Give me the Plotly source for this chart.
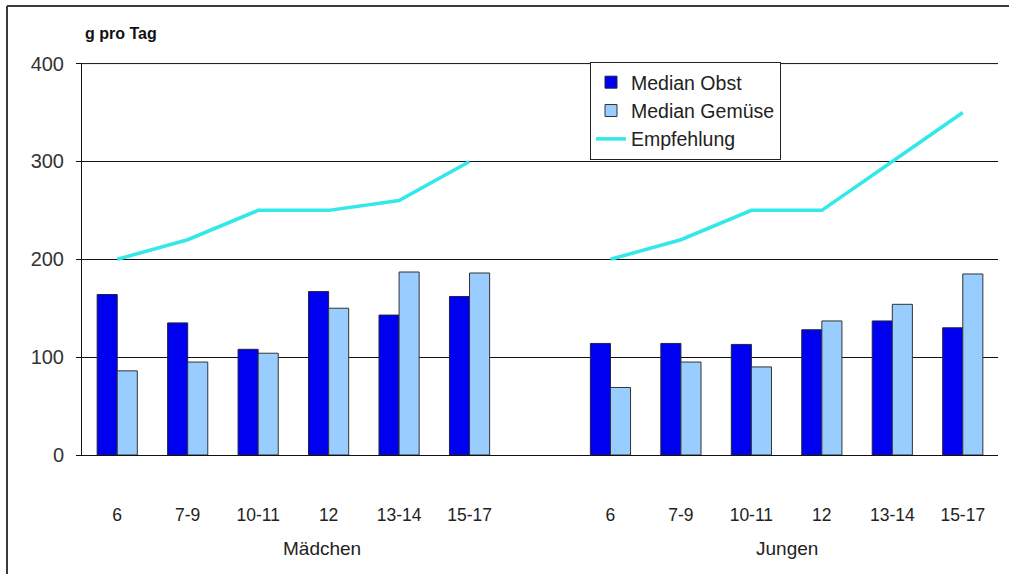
import plotly.graph_objects as go

# Age groups for girls (Mädchen) and boys (Jungen); an empty slot separates the groups
age_groups = ["6", "7-9", "10-11", "12", "13-14", "15-17"]
tick_labels = age_groups + [""] + age_groups

# Median intake in g per day
obst_maedchen = [164, 135, 108, 167, 143, 162]
obst_jungen = [114, 114, 113, 128, 137, 130]
gemuese_maedchen = [86, 95, 104, 150, 187, 186]
gemuese_jungen = [69, 95, 90, 137, 154, 185]

# Recommended intake in g per day
empf_maedchen = [200, 220, 250, 250, 260, 300]
empf_jungen = [200, 220, 250, 250, 300, 350]

y_ticks = [0, 100, 200, 300, 400]

x_pos = list(range(len(tick_labels)))
obst = obst_maedchen + [None] + obst_jungen
gemuese = gemuese_maedchen + [None] + gemuese_jungen
empfehlung = empf_maedchen + [None] + empf_jungen

FONT = "Liberation Sans, Arial, sans-serif"

fig = go.Figure()
fig.add_trace(go.Bar(
    x=x_pos, y=obst, name="Median Obst",
    marker=dict(color="#0000F0", line=dict(color="#222244", width=1)),
))
fig.add_trace(go.Bar(
    x=x_pos, y=gemuese, name="Median Gemüse",
    marker=dict(color="#99CCFF", line=dict(color="#333333", width=1)),
))
fig.add_trace(go.Scatter(
    x=x_pos, y=empfehlung, name="Empfehlung", mode="lines",
    line=dict(color="#33E8E8", width=3.5), connectgaps=False,
))

W, H = 1009, 574
L, R, T, B = 82, 11, 63, 119
pw, ph = W - L - R, H - T - B


def px_x(px):
    return (px - L) / pw


def px_y(py):
    return (H - B - py) / ph


shapes = [
    # outer frame (top and left edges)
    dict(type="line", xref="paper", yref="paper",
         x0=px_x(7), y0=px_y(6), x1=px_x(1012), y1=px_y(6),
         line=dict(color="#3a3a3a", width=2)),
    dict(type="line", xref="paper", yref="paper",
         x0=px_x(7), y0=px_y(6), x1=px_x(7), y1=px_y(578),
         line=dict(color="#3a3a3a", width=2)),
    # gridline at the top of the value range
    dict(type="line", xref="paper", yref="y",
         x0=0, y0=y_ticks[-1], x1=1, y1=y_ticks[-1],
         line=dict(color="#111111", width=1), layer="below"),
]

fig.update_layout(
    width=W, height=H,
    margin=dict(l=L, r=R, t=T, b=B),
    paper_bgcolor="white", plot_bgcolor="white",
    font=dict(family=FONT, size=17, color="#222222"),
    barmode="group", bargap=0.43, bargroupgap=0,
    showlegend=True,
    legend=dict(
        x=px_x(590), y=px_y(62), xanchor="left", yanchor="top",
        bordercolor="#222222", borderwidth=1, bgcolor="white",
        font=dict(size=19.5, family=FONT), tracegroupgap=0,
    ),
    shapes=shapes,
    annotations=[
        dict(text="<b>g pro Tag</b>", xref="paper", yref="paper",
             x=px_x(83), y=px_y(33), xanchor="left", yanchor="middle",
             showarrow=False, font=dict(size=16, color="#111111")),
        dict(text="Mädchen", xref="x", yref="paper", x=2.9, y=px_y(548),
             xanchor="center", yanchor="middle", showarrow=False,
             font=dict(size=19)),
        dict(text="Jungen", xref="x", yref="paper", x=9.5, y=px_y(548),
             xanchor="center", yanchor="middle", showarrow=False,
             font=dict(size=19)),
    ],
)

fig.update_xaxes(
    range=[-0.5, len(tick_labels) - 0.5],
    tickmode="array", tickvals=x_pos, ticktext=tick_labels,
    ticks="", showgrid=False, zeroline=False,
    showline=True, linecolor="#111111", linewidth=1,
    ticklabelstandoff=44, tickfont=dict(size=17.5),
)
fig.update_yaxes(
    range=[0, 400.6], tickvals=y_ticks,
    showgrid=True, gridcolor="#111111", gridwidth=1,
    zeroline=False, showline=True, linecolor="#111111", linewidth=1,
    ticks="outside", ticklen=5, tickcolor="#111111",
    tickfont=dict(size=20, color="#333333"), ticklabelstandoff=8,
)

fig.write_html("out.html")
